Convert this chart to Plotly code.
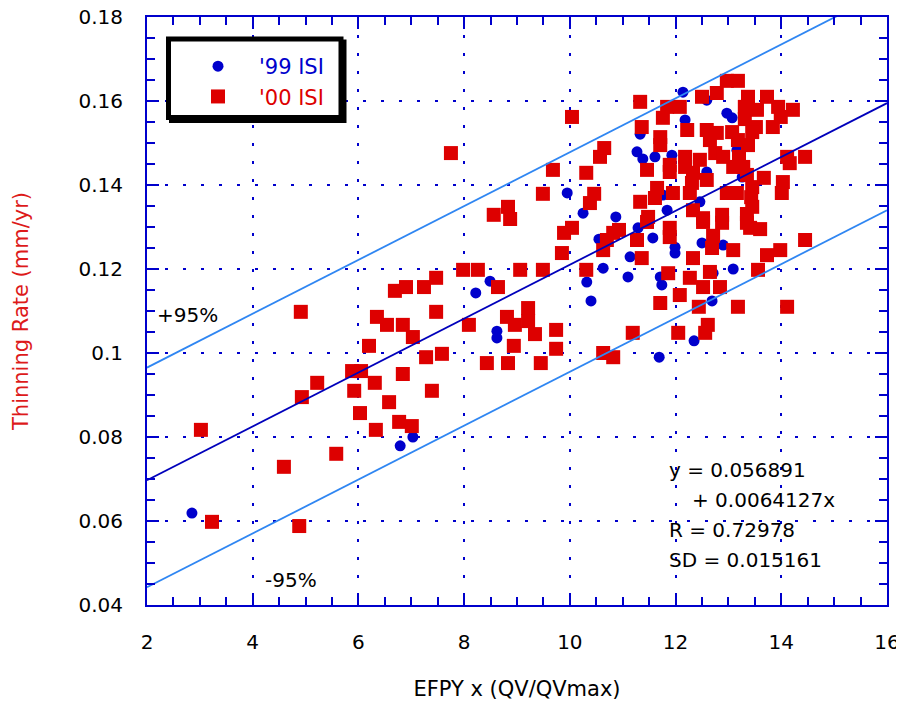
import plotly.graph_objects as go

# ---- data ('00 ISI, red squares) ----
red_x = [3.02, 3.23, 4.88, 4.59, 5.58, 4.91, 4.93, 5.22, 5.88, 6.05, 5.92, 6.03, 6.20, 6.31, 6.33,
         6.35, 6.54, 6.58, 6.69, 6.90, 6.84, 7.03, 6.84, 6.77, 7.01, 7.24, 7.28, 7.39, 7.47, 7.47,
         7.58, 10.04, 7.75, 10.65, 10.57, 9.68, 10.31, 9.49, 10.46, 10.38, 8.83, 8.56, 8.87, 9.89,
         10.04, 9.85, 10.82, 10.63, 7.98, 8.26, 9.06, 9.49, 10.31, 8.64, 8.09, 9.21, 8.81, 8.96,
         9.21, 9.34, 9.74, 8.94, 9.74, 8.43, 8.83, 9.45, 10.63, 10.82,
         12.97, 13.18, 11.33, 11.84, 12.08, 12.50, 12.78, 13.37, 13.73, 13.31, 13.54, 13.94, 14.22,
         13.99, 13.31, 11.76, 11.36, 12.22, 12.59, 12.78, 13.07, 13.52, 13.45, 13.84, 11.71, 11.71,
         13.18, 13.37, 12.65, 12.18, 12.46, 12.75, 12.90, 13.20, 14.11, 14.45, 14.16, 11.89, 11.89,
         11.46, 12.18, 12.33, 12.59, 12.31, 13.09, 13.28, 13.35, 13.67, 14.03, 14.01, 11.65, 11.95,
         11.33, 11.61, 12.27, 12.97, 13.16, 13.45, 13.43, 13.45, 11.48, 12.33, 12.52, 12.88, 12.88,
         13.35, 13.35, 13.41, 13.60, 10.93, 11.89, 12.71, 14.45, 11.46, 11.89, 12.52, 10.70, 11.27,
         12.69, 13.09, 13.73, 13.98, 11.36, 12.33, 13.56, 11.86, 12.27, 12.65, 12.52, 12.84, 12.08,
         11.71, 12.44, 13.18, 14.11, 12.61, 11.19, 12.05, 12.56]
red_y = [0.0817, 0.0598, 0.0588, 0.0729, 0.0760, 0.1098, 0.0895, 0.0929, 0.0957, 0.0957, 0.0910,
         0.0857, 0.1017, 0.0929, 0.0817, 0.1086, 0.1067, 0.0883, 0.1148, 0.1157, 0.1067, 0.1038,
         0.0950, 0.0836, 0.0826, 0.1157, 0.0990, 0.0910, 0.1179, 0.1098, 0.0998, 0.1562, 0.1476,
         0.1488, 0.1467, 0.1436, 0.1429, 0.1379, 0.1379, 0.1357, 0.1348, 0.1329, 0.1319, 0.1286,
         0.1298, 0.1238, 0.1286, 0.1245, 0.1198, 0.1198, 0.1198, 0.1198, 0.1198, 0.1157, 0.1067,
         0.1107, 0.1086, 0.1067, 0.1076, 0.1045, 0.1055, 0.1017, 0.1010, 0.0976, 0.0976, 0.0976,
         0.1000, 0.0990,
         0.1648, 0.1648, 0.1598, 0.1586, 0.1586, 0.1610, 0.1619, 0.1610, 0.1610, 0.1586, 0.1579,
         0.1586, 0.1579, 0.1562, 0.1557, 0.1560, 0.1538, 0.1531, 0.1531, 0.1524, 0.1526, 0.1538,
         0.1526, 0.1538, 0.1514, 0.1495, 0.1507, 0.1495, 0.1507, 0.1467, 0.1460, 0.1476, 0.1467,
         0.1467, 0.1467, 0.1467, 0.1452, 0.1448, 0.1431, 0.1436, 0.1443, 0.1429, 0.1412, 0.1405,
         0.1443, 0.1443, 0.1424, 0.1417, 0.1407, 0.1381, 0.1393, 0.1381, 0.1360, 0.1369, 0.1381,
         0.1381, 0.1381, 0.1395, 0.1371, 0.1348, 0.1324, 0.1340, 0.1321, 0.1329, 0.1310, 0.1331,
         0.1310, 0.1298, 0.1295, 0.1293, 0.1298, 0.1279, 0.1269, 0.1312, 0.1276, 0.1312, 0.1269,
         0.1269, 0.1250, 0.1245, 0.1233, 0.1245, 0.1226, 0.1226, 0.1198, 0.1190, 0.1179, 0.1193,
         0.1157, 0.1157, 0.1138, 0.1119, 0.1110, 0.1110, 0.1110, 0.1067, 0.1048, 0.1048, 0.1048]

# ---- data ('99 ISI, blue circles) ----
blue_x = [2.85, 6.79, 7.03, 9.95, 10.25, 10.87, 10.55, 10.63, 10.32, 10.40, 8.49, 8.22, 8.62, 8.62,
          12.14, 12.59, 12.97, 13.07, 12.18, 11.33, 11.27, 11.38, 11.61, 11.93, 13.16, 12.59, 13.26,
          11.76, 11.84, 12.46, 11.29, 11.57, 11.99, 11.99, 12.50, 12.90, 11.14, 11.10, 11.71, 11.74,
          12.71, 13.09, 12.69, 12.35, 11.69]
blue_y = [0.0619, 0.0779, 0.0800, 0.1381, 0.1333, 0.1324, 0.1271, 0.1202, 0.1169, 0.1124, 0.1171,
          0.1143, 0.1052, 0.1036, 0.1621, 0.1602, 0.1571, 0.1560, 0.1555, 0.1521, 0.1479, 0.1462,
          0.1467, 0.1471, 0.1483, 0.1431, 0.1419, 0.1376, 0.1340, 0.1360, 0.1298, 0.1274, 0.1252,
          0.1238, 0.1262, 0.1257, 0.1229, 0.1181, 0.1181, 0.1162, 0.1190, 0.1200, 0.1124, 0.1029,
          0.0990]

# ---- fit (from the chart's annotation) ----
fit_intercept = 0.056891
fit_slope = 0.0064127
band_upper = 0.0268
band_lower = 0.0255
line_x = [2, 16]

x_ticks = [2, 4, 6, 8, 10, 12, 14, 16]
x_ticktext = ["2", "4", "6", "8", "10", "12", "14", "16"]
y_ticks = [0.04, 0.06, 0.08, 0.10, 0.12, 0.14, 0.16, 0.18]
y_ticktext = ["0.04", "0.06", "0.08", "0.1", "0.12", "0.14", "0.16", "0.18"]

FONT = "DejaVu Sans, Liberation Sans, Arial, sans-serif"
AX = "#0000cc"
RED = "#dd0000"
LIGHT = "#2f86f2"

fit_y = [fit_intercept + fit_slope * x for x in line_x]
up_y = [v + band_upper for v in fit_y]
lo_y = [v - band_lower for v in fit_y]

fig = go.Figure()
fig.add_trace(go.Scatter(x=blue_x, y=blue_y, mode="markers", name="<span style='color:#0000cc'>'99 ISI</span>",
                         marker=dict(symbol="circle", size=11, color=AX, line=dict(width=0)),
                         legendgroup="a"))
fig.add_trace(go.Scatter(x=red_x, y=red_y, mode="markers", name="<span style='color:#dd0000'>'00 ISI</span>",
                         marker=dict(symbol="square", size=14, color=RED, line=dict(width=0)),
                         legendgroup="b"))
fig.add_trace(go.Scatter(x=line_x, y=fit_y, mode="lines", line=dict(color="#0000bb", width=1.8),
                         showlegend=False, hoverinfo="skip"))
fig.add_trace(go.Scatter(x=line_x, y=up_y, mode="lines", line=dict(color=LIGHT, width=1.8),
                         showlegend=False, hoverinfo="skip"))
fig.add_trace(go.Scatter(x=line_x, y=lo_y, mode="lines", line=dict(color=LIGHT, width=1.8),
                         showlegend=False, hoverinfo="skip"))

axis_common = dict(
    showline=True, linecolor=AX, linewidth=2, mirror="ticks",
    ticks="inside", tickcolor=AX, tickwidth=1.5, ticklen=12,
    showgrid=True, gridcolor=AX, gridwidth=2, griddash="3px,15px",
    zeroline=False, automargin=False, ticklabeloverflow="allow",
    tickfont=dict(family=FONT, size=20, color="black"),
)

fig.update_xaxes(range=[2, 16], tickvals=x_ticks, ticktext=x_ticktext,
                 minor=dict(dtick=0.5, tick0=2, ticks="inside", ticklen=8, tickcolor=AX, tickwidth=1.5, showgrid=False),
                 ticklabelstandoff=18,
                 title=dict(text="EFPY x (QV/QVmax)", font=dict(family=FONT, size=21, color="black"), standoff=28),
                 **axis_common)
fig.update_yaxes(range=[0.04, 0.18], tickvals=y_ticks, ticktext=y_ticktext,
                 minor=dict(dtick=0.005, tick0=0.04, ticks="inside", ticklen=8, tickcolor=AX, tickwidth=1.5, showgrid=False),
                 ticklabelstandoff=18,
                 title=dict(text="Thinning Rate (mm/yr)", font=dict(family=FONT, size=21, color="#dd1a1a"), standoff=44),
                 **axis_common)

# positions below are in final-picture pixels, converted to the plot area's paper fractions
def px_x(p):
    return (p - 147) / 740.0

def px_y(p):
    return (605 - p) / 588.0

# legend box with drop shadow
fig.add_shape(type="rect", xref="paper", yref="paper",
              x0=px_x(171.5), x1=px_x(344), y0=px_y(42), y1=px_y(120.5),
              line=dict(color="black", width=5), fillcolor="black", layer="above")
fig.add_shape(type="rect", xref="paper", yref="paper",
              x0=px_x(168.5), x1=px_x(341), y0=px_y(39), y1=px_y(117.5),
              line=dict(color="black", width=5), fillcolor="white", layer="above")

ann_font = dict(family=FONT, size=20, color="black")
anns = [
    ("y = 0.056891", 667, 470),
    ("+ 0.0064127x", 690, 500),
    ("R = 0.72978", 667, 530),
    ("SD = 0.015161", 667, 560),
    ("+95%", 155, 315),
    ("-95%", 263, 580),
]
for text, ax_, ay_ in anns:
    fig.add_annotation(text=text, xref="paper", yref="paper", x=px_x(ax_), y=px_y(ay_),
                       xanchor="left", yanchor="middle", showarrow=False, font=ann_font)

# the page body adds an 8px offset, so the figure is 8px smaller than the window
fig.update_layout(
    width=896, height=701, autosize=False,
    margin=dict(l=139, r=17, t=9, b=104),
    paper_bgcolor="white", plot_bgcolor="white",
    font=dict(family=FONT, size=20, color="black"),
    legend=dict(x=px_x(177), y=px_y(46), xanchor="left", yanchor="top",
                bgcolor="rgba(0,0,0,0)", borderwidth=0, traceorder="grouped", tracegroupgap=0,
                itemwidth=72, font=dict(family=FONT, size=21)),
    showlegend=True,
)

fig.write_html("out.html")
